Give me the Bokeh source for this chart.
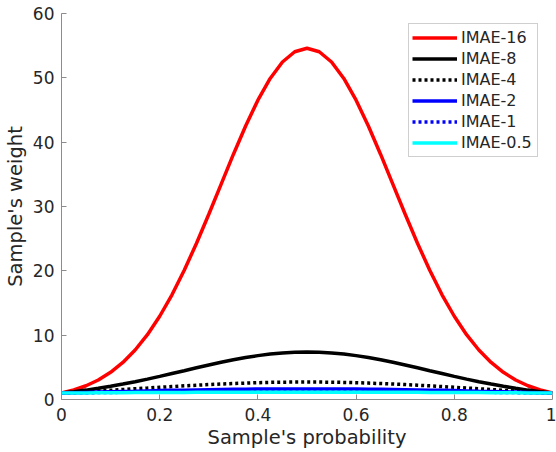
from bokeh.plotting import figure
from bokeh.embed import file_html
from bokeh.resources import INLINE
from bokeh.models import Range1d, Legend, LegendItem, FixedTicker

x = [0.0, 0.025, 0.05, 0.075, 0.1, 0.125, 0.15, 0.175, 0.2, 0.225, 0.25,
     0.275, 0.3, 0.325, 0.35, 0.375, 0.4, 0.425, 0.45, 0.475, 0.5,
     0.525, 0.55, 0.575, 0.6, 0.625, 0.65, 0.675, 0.7, 0.725, 0.75,
     0.775, 0.8, 0.825, 0.85, 0.875, 0.9, 0.925, 0.95, 0.975, 1.0]

# values from p = 0 to 0.5 (curves are symmetric about 0.5)
half16 = [1.0, 1.48, 2.14, 3.03, 4.22, 5.76, 7.69, 10.07, 12.94, 16.28, 20.09,
          24.29, 28.79, 33.45, 38.09, 42.52, 46.53, 49.90, 52.46, 54.05, 54.6]
half8 = [1.0, 1.22, 1.46, 1.74, 2.05, 2.40, 2.77, 3.17, 3.60, 4.04, 4.48,
         4.93, 5.37, 5.78, 6.17, 6.52, 6.82, 7.06, 7.24, 7.35, 7.39]
half4 = [1.0, 1.10, 1.21, 1.32, 1.43, 1.55, 1.67, 1.78, 1.90, 2.01, 2.12,
         2.22, 2.32, 2.41, 2.48, 2.55, 2.61, 2.66, 2.69, 2.71, 2.72]
half2 = [1.0, 1.05, 1.10, 1.15, 1.20, 1.25, 1.29, 1.34, 1.38, 1.42, 1.45,
         1.49, 1.52, 1.55, 1.58, 1.60, 1.62, 1.63, 1.64, 1.65, 1.65]
half1 = [1.0, 1.03, 1.05, 1.07, 1.09, 1.12, 1.14, 1.16, 1.17, 1.19, 1.21,
         1.22, 1.23, 1.25, 1.26, 1.26, 1.27, 1.28, 1.28, 1.28, 1.28]
half05 = [1.0, 1.01, 1.02, 1.04, 1.05, 1.06, 1.07, 1.08, 1.08, 1.09, 1.10,
          1.11, 1.11, 1.12, 1.12, 1.12, 1.13, 1.13, 1.13, 1.13, 1.13]

def mirror(h):
    return h + h[-2::-1]

series = [
    ("IMAE-16", mirror(half16), "#ff0000", "solid"),
    ("IMAE-8", mirror(half8), "#000000", "solid"),
    ("IMAE-4", mirror(half4), "#000000", "3 3"),
    ("IMAE-2", mirror(half2), "#0000ff", "solid"),
    ("IMAE-1", mirror(half1), "#0000ff", "3 3"),
    ("IMAE-0.5", mirror(half05), "#00ffff", "solid"),
]

x_ticks = [0, 0.2, 0.4, 0.6, 0.8, 1]
x_labels = {0: "0", 0.2: "0.2", 0.4: "0.4", 0.6: "0.6", 0.8: "0.8", 1: "1"}
y_ticks = [0, 10, 20, 30, 40, 50, 60]

p = figure(width=556, height=452, output_backend="svg", toolbar_location=None,
           x_range=Range1d(0, 1), y_range=Range1d(0, 60),
           min_border_left=61, min_border_right=4, min_border_top=13, min_border_bottom=53)
p.outline_line_color = None
p.grid.visible = False
p.background_fill_color = "white"

items = []
for name, ys, col, dash in series:
    r = p.line(x, ys, line_color=col, line_width=3.5, line_dash=dash)
    items.append(LegendItem(label=name, renderers=[r]))

for ax in (p.xaxis[0], p.yaxis[0]):
    ax.axis_line_color = "#8c8c8c"
    ax.major_tick_line_color = "#8c8c8c"
    ax.major_tick_in = 5
    ax.major_tick_out = 0
    ax.minor_tick_line_color = None
    ax.major_label_text_font = "DejaVu Sans"
    ax.major_label_text_font_size = "17px"
    ax.major_label_text_color = "#262626"
    ax.axis_label_text_font = "DejaVu Sans"
    ax.axis_label_text_font_size = "19.5px"
    ax.axis_label_text_font_style = "normal"
    ax.axis_label_text_color = "#262626"

p.xaxis.ticker = FixedTicker(ticks=x_ticks)
p.xaxis.major_label_overrides = x_labels
p.yaxis.ticker = FixedTicker(ticks=y_ticks)
p.xaxis.axis_label = "Sample's probability"
p.yaxis.axis_label = "Sample's weight"
p.xaxis.major_label_standoff = 8
p.yaxis.major_label_standoff = 7
p.xaxis.axis_label_standoff = 2
p.yaxis.axis_label_standoff = 3

legend = Legend(items=items, location=(347, 242))
legend.border_line_color = "#a0a0a0"
legend.border_line_width = 1
legend.background_fill_color = "white"
legend.background_fill_alpha = 1
legend.label_text_font = "DejaVu Sans"
legend.label_text_font_size = "16px"
legend.label_text_color = "#262626"
legend.glyph_width = 45
legend.glyph_height = 21
legend.label_height = 21
legend.label_width = 73
legend.spacing = 0
legend.padding = 3
legend.margin = 0
legend.label_standoff = 4
p.add_layout(legend, "center")

open("out.html", "w").write(file_html(p, INLINE))
